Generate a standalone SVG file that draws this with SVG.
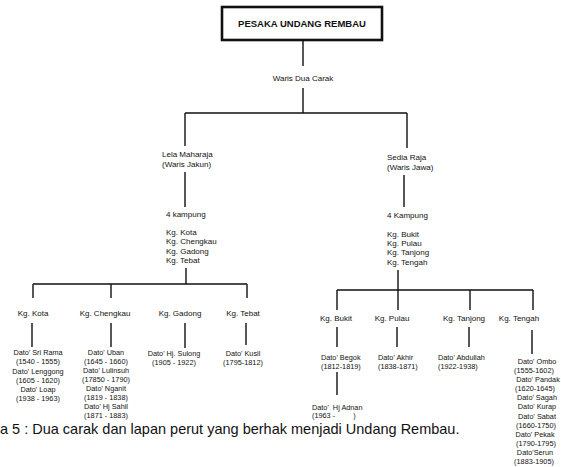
<svg xmlns="http://www.w3.org/2000/svg" width="561" height="467" viewBox="0 0 561 467">
<style>
text{font-family:"Liberation Sans",Arial,sans-serif;fill:#111;white-space:pre}
.t{font-size:9.5px;font-weight:bold;text-anchor:middle}
.l{font-size:8px}
.n{font-size:7.3px}
.c{text-anchor:middle}
.cap{font-size:14.5px}
.ln{stroke:#111;stroke-width:1.4;fill:none}
</style>
<rect width="561" height="467" fill="#fff"/>
<g id="connectors" class="ln">
<path d="M303 40V66M303 88V113M185 113H407M185 113V146M407 113V148"/>
<path d="M185 172V207M404 175V207"/>
<path d="M186 268V284M33 284H247M33 284V298M111 284V298M247 284V298"/>
<path d="M398 270V290M337 290H533M337 290V310M398 290V310M470 290V310M533 290V310"/>
<path d="M32 323V347M111 323V347M185 323V348M246 323V345"/>
<path d="M337 327V347M397 327V347M469 327V347M532 330V354M337 372V395"/>
</g>
<g id="title"><rect x="222" y="7" width="160" height="33" fill="#fff" stroke="#111" stroke-width="2.6"/><text class="t" x="302" y="27">PESAKA UNDANG REMBAU</text></g>
<g id="waris"><text class="l c" x="303" y="81">Waris Dua Carak</text></g>
<g id="lela"><text class="l" x="162" y="157">Lela Maharaja</text><text class="l" x="162" y="167">(Waris Jakun)</text></g>
<g id="sedia"><text class="l" x="387" y="160">Sedia Raja</text><text class="l" x="387" y="170">(Waris Jawa)</text></g>
<g id="kampung-left"><text class="l" x="166" y="217">4 kampung</text><text class="l" x="166" y="235">Kg. Kota</text><text class="l" x="166" y="244">Kg. Chengkau</text><text class="l" x="166" y="254">Kg. Gadong</text><text class="l" x="166" y="263">Kg. Tebat</text></g>
<g id="kampung-right"><text class="l" x="387" y="218">4 Kampung</text><text class="l" x="387" y="237">Kg. Bukit</text><text class="l" x="387" y="246">Kg. Pulau</text><text class="l" x="387" y="255">Kg. Tanjong</text><text class="l" x="387" y="265">Kg. Tengah</text></g>
<g id="kg-kota"><text class="l c" x="33" y="316">Kg. Kota</text></g>
<g id="kg-chengkau"><text class="l c" x="105" y="316">Kg. Chengkau</text></g>
<g id="kg-gadong"><text class="l c" x="180" y="316">Kg. Gadong</text></g>
<g id="kg-tebat"><text class="l c" x="243" y="316">Kg. Tebat</text></g>
<g id="kg-bukit"><text class="l c" x="336" y="321">Kg. Bukit</text></g>
<g id="kg-pulau"><text class="l c" x="392" y="321">Kg. Pulau</text></g>
<g id="kg-tanjong"><text class="l c" x="464" y="321">Kg. Tanjong</text></g>
<g id="kg-tengah"><text class="l c" x="519" y="321">Kg. Tengah</text></g>
<g id="dato-kota"><text class="n c" x="38" y="355">Dato' Sri Rama</text><text class="n c" x="38" y="364">(1540 - 1555)</text><text class="n c" x="38" y="374">Dato' Lenggong</text><text class="n c" x="38" y="383">(1605 - 1620)</text><text class="n c" x="38" y="392">Dato' Loap</text><text class="n c" x="38" y="401">(1938 - 1963)</text></g>
<g id="dato-chengkau"><text class="n c" x="106" y="355">Dato' Uban</text><text class="n c" x="106" y="364">(1645 - 1660)</text><text class="n c" x="106" y="373">Dato' Lulinsuh</text><text class="n c" x="106" y="382">(17850 - 1790)</text><text class="n c" x="106" y="391">Dato' Nganit</text><text class="n c" x="106" y="400">(1819 - 1838)</text><text class="n c" x="106" y="409">Dato' Hj Sahil</text><text class="n c" x="106" y="418">(1871 - 1883)</text></g>
<g id="dato-gadong"><text class="n c" x="174" y="356">Dato' Hj. Sulong</text><text class="n c" x="174" y="365">(1905 - 1922)</text></g>
<g id="dato-tebat"><text class="n c" x="243" y="356">Dato' Kusil</text><text class="n c" x="243" y="365">(1795-1812)</text></g>
<g id="dato-bukit"><text class="n" x="321" y="360">Dato' Begok</text><text class="n" x="321" y="369">(1812-1819)</text></g>
<g id="dato-adnan"><text class="n" x="312" y="410">Dato'  Hj Adnan</text><text class="n" x="312" y="418">(1963 -         )</text></g>
<g id="dato-pulau"><text class="n" x="378" y="360">Dato' Akhir</text><text class="n" x="378" y="369">(1838-1871)</text></g>
<g id="dato-tanjong"><text class="n" x="438" y="360">Dato' Abdullah</text><text class="n" x="438" y="369">(1922-1938)</text></g>
<g id="dato-tengah"><text class="n c" x="537" y="364">Dato' Ombo</text><text class="n c" x="534" y="373">(1555-1602)</text><text class="n c" x="538" y="382">Dato' Pandak</text><text class="n c" x="535" y="391">(1620-1645)</text><text class="n c" x="537" y="400">Dato' Sagah</text><text class="n c" x="537" y="409">Dato' Kurap</text><text class="n c" x="537" y="419">Dato' Sabat</text><text class="n c" x="536" y="428">(1660-1750)</text><text class="n c" x="535" y="437">Dato' Pekak</text><text class="n c" x="536" y="446">(1790-1795)</text><text class="n c" x="535" y="455">Dato'Serun</text><text class="n c" x="534" y="464">(1883-1905)</text></g>
<text class="cap" x="0" y="434">a 5 : Dua carak dan lapan perut yang berhak menjadi Undang Rembau.</text>
</svg>
